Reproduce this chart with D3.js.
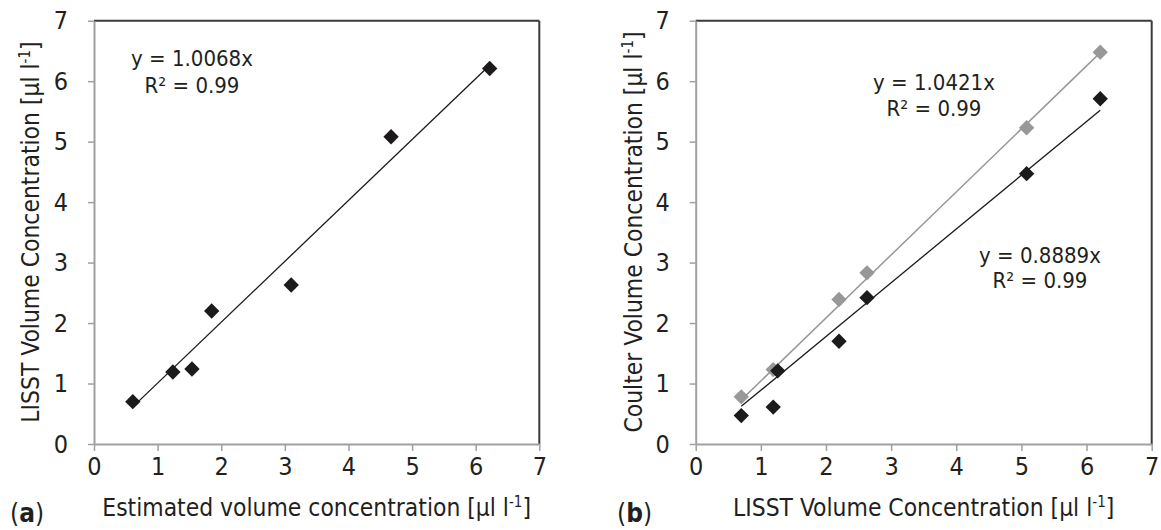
<!DOCTYPE html>
<html><head><meta charset="utf-8">
<script src="https://cdn.jsdelivr.net/npm/d3@7"></script>
<style>
body{margin:0;background:#fff}
text{font-family:"DejaVu Sans Condensed","DejaVu Sans",sans-serif;fill:#231f20}
</style>
</head><body><svg id="c" width="1161" height="530"></svg>
<script>
// ---- data ----
const axisTicks = [0,1,2,3,4,5,6,7];
const estimatedConc = [0.61,1.24,1.54,1.85,3.10,4.67,6.22];
const lisstConcA   = [0.70,1.19,1.24,2.20,2.63,5.08,6.21];
const lisstBlackX  = [0.70,1.19,1.26,2.20,2.63,5.08,6.21];
const coulterBlack = [0.47,0.61,1.21,1.70,2.42,4.47,5.71];
const lisstGrayX   = [0.70,1.19,2.20,2.63,5.08,6.21];
const coulterGray  = [0.78,1.23,2.39,2.83,5.23,6.48];
const slopeA = 1.0068, slopeGray = 1.0421, slopeBlack = 0.8889;
const r2Label = "R\u00B2 = 0.99";

const svg = d3.select("#c");
const BLACK = "#1c1a1b", GRAY = "#989898";

function panel(o){
  const x = d3.scaleLinear().domain([0,7]).range([o.x0,o.x1]);
  const y = d3.scaleLinear().domain([0,7]).range([444,20.7]);
  const g = svg.append("g");
  // top & right border
  g.append("line").attr("x1",x(0)).attr("x2",x(7)).attr("y1",y(7)).attr("y2",y(7))
    .attr("stroke","#3a3a3a").attr("stroke-width",2);
  g.append("line").attr("x1",x(7)).attr("x2",x(7)).attr("y1",y(7)).attr("y2",y(0))
    .attr("stroke","#3a3a3a").attr("stroke-width",2);
  // axes
  const ax = g.append("g").attr("transform",`translate(0,${y(0)})`)
    .call(d3.axisBottom(x).tickValues(axisTicks).tickSize(7).tickSizeOuter(0).tickPadding(6).tickFormat(d3.format("d")));
  const ay = g.append("g").attr("transform",`translate(${x(0)},0)`)
    .call(d3.axisLeft(y).tickValues(axisTicks).tickSize(6).tickSizeOuter(0).tickPadding(20).tickFormat(d3.format("d")));
  [ax,ay].forEach(a=>{
    a.select(".domain").attr("stroke","#a0a0a0").attr("stroke-width",2);
    a.selectAll(".tick line").attr("stroke","#a0a0a0").attr("stroke-width",1.5);
    a.selectAll(".tick text").attr("font-size",25).attr("font-family",null).style("fill","#231f20");
  });
  ax.selectAll(".tick text").attr("dy","0.71em");
  // titles
  const xt = g.append("text").attr("x",(o.x0+o.x1)/2).attr("y",516).attr("text-anchor","middle").attr("font-size",24.4);
  xt.append("tspan").text(o.xTitle+" [\u00B5l l");
  xt.append("tspan").attr("font-size",15).attr("dy",-9.5).text("-1");
  xt.append("tspan").attr("dy",9.5).text("]");
  const yt = g.append("text").attr("transform",`translate(${o.yTitleX},232) rotate(-90)`).attr("text-anchor","middle").attr("font-size",24.4);
  yt.append("tspan").text(o.yTitle+" [\u00B5l l");
  yt.append("tspan").attr("font-size",15).attr("dy",-9.5).text("-1");
  yt.append("tspan").attr("dy",9.5).text("]");
  // panel letter
  const pl = g.append("text").attr("x",o.letterX).attr("y",522).attr("font-size",26);
  pl.append("tspan").text("(");
  pl.append("tspan").attr("font-weight","bold").text(o.letter);
  pl.append("tspan").text(")");
  return {g,x,y};
}

function series(p, xs, ys, slope, color, lw){
  const x0 = d3.min(xs), x1 = d3.max(xs);
  p.g.append("line").attr("x1",p.x(x0)).attr("y1",p.y(slope*x0)).attr("x2",p.x(x1)).attr("y2",p.y(slope*x1))
    .attr("stroke",color).attr("stroke-width",lw);
}
function points(p, xs, ys, color){
  const sym = d3.symbol().type(d3.symbolSquare).size(118);
  p.g.selectAll(null).data(xs.map((v,i)=>[v,ys[i]])).join("path")
    .attr("d",sym).attr("fill",color)
    .attr("transform",d=>`translate(${p.x(d[0])},${p.y(d[1])}) rotate(45)`);
}
function label(p, cx, cy, lines){
  lines.forEach((t,i)=>{
    p.g.append("text").attr("x",cx).attr("y",cy[i]).attr("text-anchor","middle")
      .attr("dy","0.35em").attr("font-size",22).text(t);
  });
}

// panel (a)
const pa = panel({x0:94,x1:539.3,xTitle:"Estimated volume concentration",yTitle:"LISST Volume Concentration",yTitleX:39,letter:"a",letterX:10});
series(pa, estimatedConc, lisstConcA, slopeA, BLACK, 1.3);
points(pa, estimatedConc, lisstConcA, BLACK);
label(pa, 192, [58,85], ["y = "+slopeA+"x", r2Label]);

// panel (b)
const pb = panel({x0:695.7,x1:1151.7,xTitle:"LISST Volume Concentration",yTitle:"Coulter Volume Concentration",yTitleX:642,letter:"b",letterX:617});
series(pb, lisstGrayX, coulterGray, slopeGray, GRAY, 1.5);
series(pb, lisstBlackX, coulterBlack, slopeBlack, BLACK, 1.3);
points(pb, lisstGrayX, coulterGray, GRAY);
points(pb, lisstBlackX, coulterBlack, BLACK);
label(pb, 934, [82,108], ["y = "+slopeGray+"x", r2Label]);
label(pb, 1040, [255,280], ["y = "+slopeBlack+"x", r2Label]);
</script></body></html>
